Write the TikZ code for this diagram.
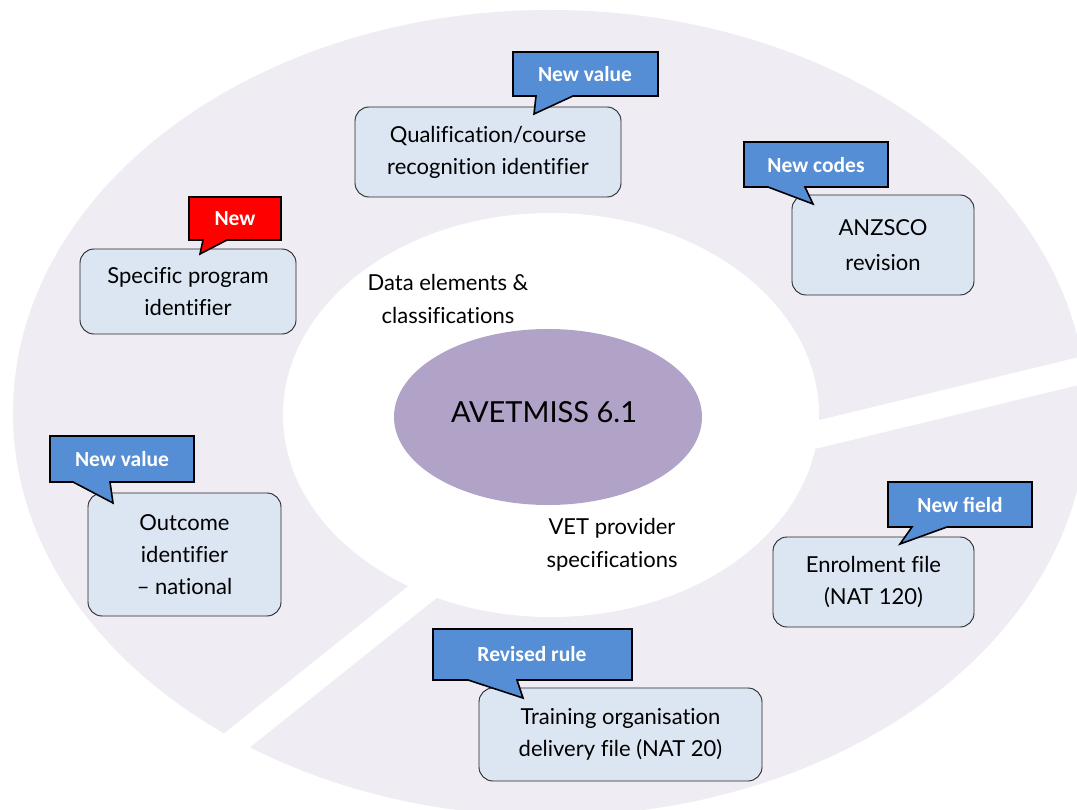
\documentclass[tikz,border=0pt]{standalone}
\usepackage{fontspec}
\setmainfont[Ligatures={NoCommon}]{Lato}
\newfontfamily\calfont{Carlito}
\usetikzlibrary{shapes.geometric}
\definecolor{ringc}{HTML}{EFECF4}
\definecolor{boxfill}{HTML}{DCE6F2}
\definecolor{purp}{HTML}{B1A2C8}
\definecolor{cblue}{HTML}{558ED5}
\definecolor{cred}{HTML}{FF0000}
\begin{document}
\begin{tikzpicture}[x=1pt,y=-1pt,
  box/.style={draw=black!85, line width=0.9pt, fill=boxfill, rounded corners=14pt, align=center,
    font=\fontsize{22}{32}\selectfont, inner sep=0pt},
  call/.style={draw=black, line width=1.6pt, line join=miter},
  calltxt/.style={text=white, font=\calfont\bfseries\fontsize{21.5}{24}\selectfont, inner sep=0pt},
  lbl/.style={align=center, font=\fontsize{22}{33}\selectfont, inner sep=0pt}]
\useasboundingbox (0,0) rectangle (1077,810);
\fill[white] (0,0) rectangle (1077,810);
\begin{scope}
  \clip (0,0) rectangle (1077,810);
  \fill[ringc] (550,413) ellipse [x radius=537pt, y radius=403pt];
  \draw[white, line width=27pt] (700,462.9) -- (1150,353.8);
  \draw[white, line width=27pt] (500,530) -- (150,810);
  \fill[white] (551,415) ellipse [x radius=268pt, y radius=202pt];
\end{scope}
% centre
\node[ellipse, fill=purp, minimum width=308pt, minimum height=176pt, inner sep=0pt] (core) at (548,417) {};
\node[font=\fontsize{29}{36}\selectfont, inner sep=0pt] (coret) at (544,412) {AVETMISS 6.1};
% free labels
\node[lbl] (dec) at (448,299) {Data elements \&\\classifications};
\node[lbl] (vps) at (612,545) {VET provider\\specifications};
% boxes
\node[box, minimum width=266pt, minimum height=90pt] (qual) at (488,152) {Qualification/course\\recognition identifier};
\node[box, minimum width=216pt, minimum height=85pt] (spec) at (188,291.5) {Specific program\\identifier};
\node[box, minimum width=182pt, minimum height=100pt, font=\fontsize{22}{35}\selectfont] (anz) at (883,245) {ANZSCO\\revision};
\node[box, minimum width=193pt, minimum height=123pt] (outc) at (184.5,554.5) {Outcome\\identifier\\-- national};
\node[box, minimum width=201pt, minimum height=90pt] (enrol) at (873.5,582) {Enrolment file\\(NAT 120)};
\node[box, minimum width=283pt, minimum height=93pt] (train) at (620.5,734.5) {Training organisation\\delivery file (NAT 20)};
% callouts
\filldraw[call, fill=cblue] (513,52) -- (658,52) -- (658,96) -- (573,96) -- (534,114) -- (536,96) -- (513,96) -- cycle;
\node[calltxt] (cv1) at (585,74) {New value};
\filldraw[call, fill=cred] (189,197) -- (281,197) -- (281,240) -- (227,240) -- (200,254) -- (203,240) -- (189,240) -- cycle;
\node[calltxt] (cnew) at (235,219) {New};
\filldraw[call, fill=cblue] (744,142) -- (888,142) -- (888,187) -- (805,187) -- (813,204) -- (768,187) -- (744,187) -- cycle;
\node[calltxt] (ccodes) at (816,165) {New codes};
\filldraw[call, fill=cblue] (50,436) -- (194,436) -- (194,482) -- (110,482) -- (113,503) -- (73,482) -- (50,482) -- cycle;
\node[calltxt] (cv2) at (122,459) {New value};
\filldraw[call, fill=cblue] (888,482) -- (1032,482) -- (1032,527) -- (947,527) -- (900,544) -- (912,527) -- (888,527) -- cycle;
\node[calltxt] (cfield) at (960,505) {New field};
\filldraw[call, fill=cblue] (433,629) -- (632,629) -- (632,680) -- (517,680) -- (523,698) -- (468,680) -- (433,680) -- cycle;
\node[calltxt] (crule) at (532,654) {Revised rule};
\end{tikzpicture}
\end{document}
